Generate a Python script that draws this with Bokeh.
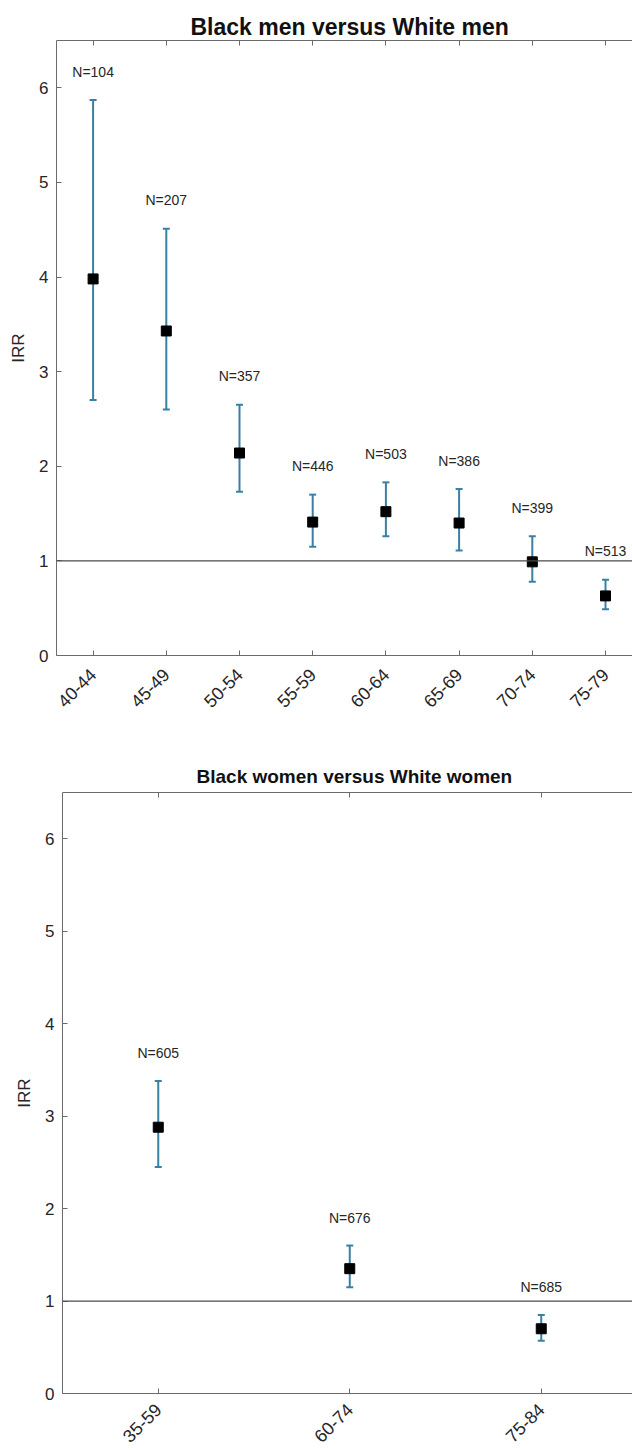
import math
from bokeh.plotting import figure
from bokeh.models import (ColumnDataSource, Whisker, TeeHead, Span, FixedTicker,
                          LinearAxis, Range1d)
from bokeh.embed import file_html
from bokeh.resources import INLINE
from bokeh.core.properties import value

# ---------------- data ----------------
men_groups = ["40-44", "45-49", "50-54", "55-59", "60-64", "65-69", "70-74", "75-79"]
men_irr = [3.98, 3.43, 2.14, 1.41, 1.52, 1.40, 0.99, 0.63]
men_lower = [2.70, 2.60, 1.73, 1.15, 1.26, 1.11, 0.78, 0.49]
men_upper = [5.87, 4.51, 2.65, 1.70, 1.83, 1.76, 1.26, 0.80]
men_n = [104, 207, 357, 446, 503, 386, 399, 513]

women_groups = ["35-59", "60-74", "75-84"]
women_irr = [2.88, 1.35, 0.70]
women_lower = [2.45, 1.15, 0.57]
women_upper = [3.38, 1.60, 0.85]
women_n = [605, 676, 685]

y_ticks = [0, 1, 2, 3, 4, 5, 6]
ref_line = 1

# ---------------- style ----------------
FONT = "Liberation Sans"
AXIS_COLOR = "#6b6b6b"
TEXT_COLOR = "#262626"
BAR_COLOR = "#3a80a3"
LABEL_OFFSET = 0.3


def make_panel(title, groups, irr, lower, upper, n, frame_w, frame_h, x_end,
               border_left, border_top, border_bottom, title_size, title_offset,
               title_standoff, xlabel_standoff):
    xs = list(range(1, len(groups) + 1))
    src = ColumnDataSource(dict(
        x=xs, irr=irr, lower=lower, upper=upper,
        label=[f"N={v}" for v in n],
        ly=[u + LABEL_OFFSET for u in upper],
    ))
    p = figure(frame_width=frame_w, frame_height=frame_h,
               x_range=Range1d(0.5, x_end), y_range=Range1d(0, 6.5),
               output_backend="svg", toolbar_location=None,
               min_border_left=border_left, min_border_right=0,
               min_border_top=border_top, min_border_bottom=border_bottom,
               title=title)
    p.outline_line_color = None
    p.xgrid.visible = False
    p.ygrid.visible = False
    p.background_fill_color = "white"
    p.border_fill_color = "white"

    p.title.align = "left"
    p.title.text_font = FONT
    p.title.text_font_size = title_size
    p.title.text_font_style = "bold"
    p.title.text_color = "#111111"
    p.title.standoff = title_standoff
    p.title.offset = title_offset

    # x axis (bottom)
    xa = p.xaxis[0]
    xa.ticker = FixedTicker(ticks=xs)
    xa.major_label_overrides = {i: g for i, g in zip(xs, groups)}
    xa.major_label_orientation = math.pi / 4
    xa.major_label_text_font = FONT
    xa.major_label_text_font_size = "18px"
    xa.major_label_text_color = TEXT_COLOR
    xa.major_tick_in = 5
    xa.major_tick_out = 0
    xa.minor_tick_line_color = None
    xa.axis_line_color = AXIS_COLOR
    xa.major_tick_line_color = AXIS_COLOR
    xa.major_label_standoff = xlabel_standoff

    # y axis (left)
    ya = p.yaxis[0]
    ya.ticker = FixedTicker(ticks=y_ticks)
    ya.major_label_text_font = FONT
    ya.major_label_text_font_size = "17px"
    ya.major_label_text_color = TEXT_COLOR
    ya.major_tick_in = 5
    ya.major_tick_out = 0
    ya.minor_tick_line_color = None
    ya.axis_line_color = AXIS_COLOR
    ya.major_tick_line_color = AXIS_COLOR
    ya.major_label_standoff = 8
    ya.axis_label = "IRR"
    ya.axis_label_text_font = FONT
    ya.axis_label_text_font_size = "17px"
    ya.axis_label_text_font_style = "normal"
    ya.axis_label_text_color = TEXT_COLOR
    ya.axis_label_standoff = 8

    # top border with inward ticks (no labels)
    top = LinearAxis(ticker=FixedTicker(ticks=xs))
    top.major_label_overrides = {i: "" for i in xs}
    top.major_label_standoff = 0
    top.major_tick_in = 5
    top.major_tick_out = 0
    top.minor_tick_line_color = None
    top.axis_line_color = AXIS_COLOR
    top.major_tick_line_color = AXIS_COLOR
    p.add_layout(top, "above")

    p.add_layout(Span(location=ref_line, dimension="width",
                      line_color="#4a4a4a", line_width=1.2))

    p.add_layout(Whisker(base="x", upper="upper", lower="lower", source=src,
                         dimension="height", line_color=BAR_COLOR, line_width=2,
                         upper_head=TeeHead(size=7, line_color=BAR_COLOR, line_width=2),
                         lower_head=TeeHead(size=7, line_color=BAR_COLOR, line_width=2)))
    p.scatter("x", "irr", marker="square", size=10, color="black", source=src)
    p.text(x="x", y="ly", text="label", source=src, text_align="center",
           text_baseline="middle", text_font=value(FONT), text_font_size="14px",
           text_color=TEXT_COLOR)
    return p


p1 = make_panel("Black men versus White men", men_groups, men_irr, men_lower,
                men_upper, men_n, frame_w=576, frame_h=615, x_end=0.5 + 576 / 73.2,
                border_left=56, border_top=40, border_bottom=85,
                title_size="23px", title_offset=134, title_standoff=2,
                xlabel_standoff=16)
p2 = make_panel("Black women versus White women", women_groups, women_irr,
                women_lower, women_upper, women_n, frame_w=570, frame_h=601,
                x_end=0.5 + 570 / 191.5, border_left=62, border_top=52,
                border_bottom=56, title_size="19px", title_offset=134,
                title_standoff=11, xlabel_standoff=13)

open("out.html", "w").write(file_html([p1, p2], INLINE))
